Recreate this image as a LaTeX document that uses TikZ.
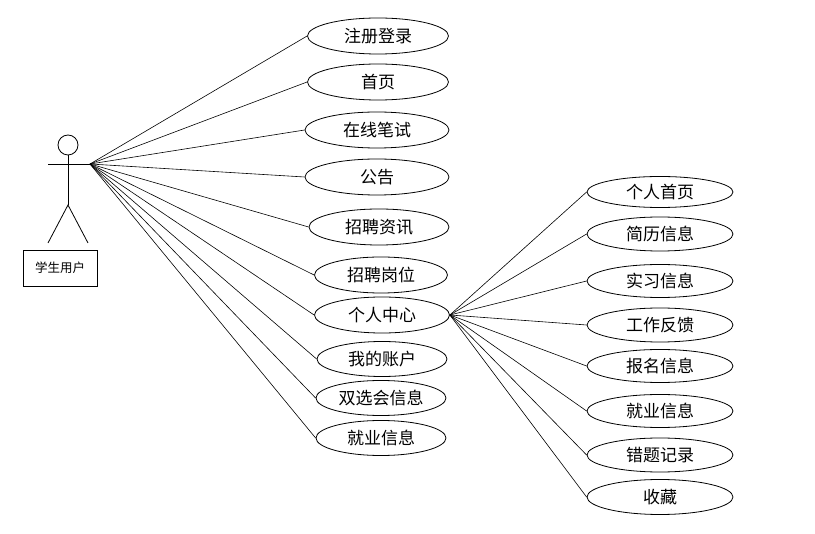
\documentclass[tikz,border=0pt]{standalone}
\usepackage{fontspec}
\newfontfamily\cjk{Noto Sans CJK SC}
\usetikzlibrary{shapes.geometric}

\begin{document}
\begin{tikzpicture}[
    x=1pt, y=-1pt,
    every node/.style={font=\cjk\fontsize{17}{20}\selectfont, align=center},
    usecase/.style={draw, ellipse, inner sep=0pt, line width=0.8pt, minimum width=140pt, minimum height=36pt},
    subcase/.style={usecase, minimum width=146pt, minimum height=33pt},
    actorbox/.style={draw, line width=0.8pt, minimum width=74pt, minimum height=36pt, font=\cjk\fontsize{12.5}{15}\selectfont},
    link/.style={line width=0.6pt}
]
\useasboundingbox (0,0) rectangle (815,534);

% actor
\node[draw, circle, line width=0.8pt, minimum size=20pt, inner sep=0pt] (head) at (68,145) {};
\coordinate (hand) at (90,164);
\coordinate (hip) at (68,205);
\draw[line width=0.8pt] (48,164) -- (hand);
\draw[line width=0.8pt] (head.south) -- (hip);
\draw[line width=0.8pt] (48,243) -- (hip) -- (88,243);
\node[actorbox] (student) at (60,268) {学生用户};

% use cases of the student
\node[usecase, minimum width=141pt] (register) at (378,36) {注册登录};
\node[usecase, minimum width=141pt] (home) at (378,82) {首页};
\node[usecase, minimum width=144pt] (exam) at (377,130) {在线笔试};
\node[usecase, minimum width=144pt] (notice) at (377,177) {公告};
\node[usecase, minimum width=140pt] (jobnews) at (379,227) {招聘资讯};
\node[usecase, minimum width=133pt] (posts) at (381,275) {招聘岗位};
\node[usecase, minimum width=135pt] (center) at (382,315) {个人中心};
\node[usecase, minimum width=130pt, minimum height=35pt] (account) at (382,359) {我的账户};
\node[usecase, minimum width=130pt, minimum height=35pt] (fair) at (381,398) {双选会信息};
\node[usecase, minimum width=130pt, minimum height=35pt] (employ) at (381,438) {就业信息};

% personal center
\node[subcase, minimum height=31pt] (myhome) at (660,192) {个人首页};
\node[subcase, minimum height=34pt] (resume) at (660,234) {简历信息};
\node[subcase] (intern) at (660,281) {实习信息};
\node[subcase, minimum height=34pt] (feedback) at (660,325) {工作反馈};
\node[subcase] (signup) at (660,366) {报名信息};
\node[subcase] (myemploy) at (660,411) {就业信息};
\node[subcase, minimum height=34pt] (mistakes) at (660,455) {错题记录};
\node[subcase, minimum height=35pt] (favorites) at (660,497) {收藏};

\draw[link] (hand) -- (register.west);
\draw[link] (hand) -- (home.west);
\draw[link] (hand) -- (exam.west);
\draw[link] (hand) -- (notice.west);
\draw[link] (hand) -- (jobnews.west);
\draw[link] (hand) -- (posts.west);
\draw[link] (hand) -- (center.west);
\draw[link] (hand) -- (account.west);
\draw[link] (hand) -- (fair.west);
\draw[link] (hand) -- (employ.west);

\draw[link] (center.east) -- (myhome.west);
\draw[link] (center.east) -- (resume.west);
\draw[link] (center.east) -- (intern.west);
\draw[link] (center.east) -- (feedback.west);
\draw[link] (center.east) -- (signup.west);
\draw[link] (center.east) -- (myemploy.west);
\draw[link] (center.east) -- (mistakes.west);
\draw[link] (center.east) -- (favorites.west);
\end{tikzpicture}
\end{document}
